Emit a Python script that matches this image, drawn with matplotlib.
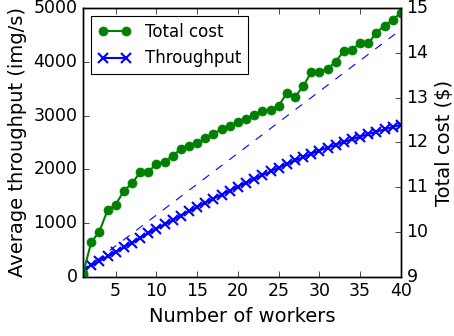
import matplotlib
matplotlib.use('Agg')
import matplotlib.pyplot as plt

plt.style.use('classic')

# data
workers = list(range(1, 41))
throughput = [115, 215, 295, 380, 465, 550, 635, 720, 810, 895,
              975, 1055, 1140, 1220, 1300, 1380, 1455, 1530, 1605, 1680,
              1750, 1820, 1890, 1960, 2030, 2100, 2165, 2225, 2290, 2350,
              2405, 2455, 2510, 2560, 2610, 2655, 2700, 2745, 2790, 2830]
cost = [9.08, 9.77, 10.01, 10.49, 10.61, 10.92, 11.09, 11.33, 11.34, 11.53,
        11.57, 11.70, 11.86, 11.93, 11.98, 12.09, 12.19, 12.30, 12.37, 12.46,
        12.52, 12.61, 12.71, 12.73, 12.82, 13.10, 13.02, 13.25, 13.57, 13.57,
        13.65, 13.80, 14.05, 14.06, 14.23, 14.21, 14.45, 14.61, 14.73, 14.90]
ideal_x = [1, 40]
ideal_y = [115, 4600]

fig = plt.figure(figsize=(4.54, 3.36), dpi=100, facecolor='white')
ax1 = fig.add_axes([0.183, 0.176, 0.700, 0.800])
ax2 = ax1.twinx()

l_tp, = ax1.plot(workers, throughput, 'bx-', markersize=7, mew=1.5, lw=1.5,
                 label='Throughput')
ax1.plot(ideal_x, ideal_y, 'b--', lw=0.8)
l_cost, = ax2.plot(workers, cost, 'go-', markersize=6.5, mec='g', lw=1.5,
                   label='Total cost')

ax1.set_xlim(1, 40)
ax1.set_ylim(0, 5000)
ax2.set_ylim(9, 15)

ax1.set_xlabel('Number of workers', fontsize=14)
ax1.set_ylabel('Average throughput (img/s)', fontsize=14)
ax2.set_ylabel('Total cost (\\$)', fontsize=14)
ax1.tick_params(labelsize=12.5)
ax2.tick_params(labelsize=12.5)

leg = ax2.legend([l_cost, l_tp], ['Total cost', 'Throughput'], loc='upper left',
                 fontsize=12, numpoints=2, borderaxespad=0.5)
leg.get_frame().set_linewidth(0.8)

fig.savefig('out.png', dpi=100, facecolor='white')
